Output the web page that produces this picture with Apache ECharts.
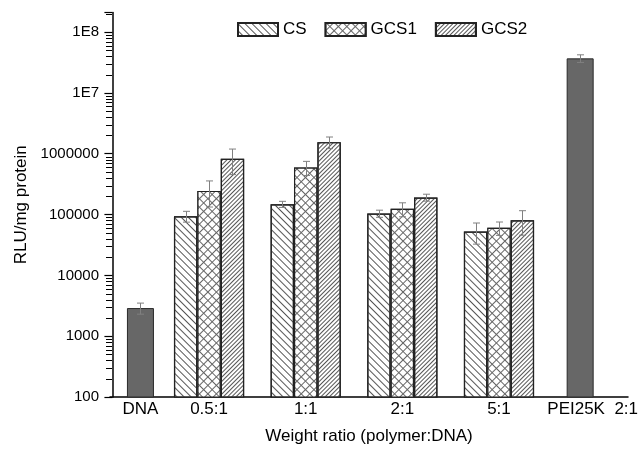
<!DOCTYPE html>
<html>
<head>
<meta charset="utf-8">
<script src="https://cdn.jsdelivr.net/npm/echarts@6/dist/echarts.min.js"></script>
<style>html,body{margin:0;padding:0;background:#fff}#c{width:643px;height:450px}</style>
</head>
<body>
<div id="c"></div>
<script>
// ---- data ----
const categories = ['DNA', '0.5:1', '1:1', '2:1', '5:1', 'PEI25K  2:1'];
const groupCategories = ['0.5:1', '1:1', '2:1', '5:1'];
const csValues   = [94000, 148000, 104000, 52600];
const csErr      = [19000, 17000, 14000, 20000];
const gcs1Values = [245000, 594000, 124000, 60400];
const gcs1Err    = [112000, 155000, 32000, 15000];
const gcs2Values = [824000, 1549000, 191000, 80700];
const gcs2Err    = [370000, 335000, 25000, 35000];
const controlCategories = ['DNA', 'PEI25K  2:1'];
const controlValues = [2900, 37000000];
const controlErr    = [600, 5300000];
const yTickValues = [100, 1000, 10000, 100000, 1000000, 10000000, 100000000];
const yTickLabels = ['100', '1000', '10000', '100000', '1000000', '1E7', '1E8'];

// axis position of each category along the x axis (non-uniform spacing as in original)
const X_MIN = -0.025, X_MAX = 5.335;
const catX = [0.29, 1, 2, 3, 4, 4.84];
const xOf = name => catX[categories.indexOf(name)];

// log minor ticks (2..9 x 10^n)
const minorTicks = [];
for (let e = 2; e < 9; e++) for (let m = 2; m <= 9; m++) minorTicks.push(m * Math.pow(10, e));

const FONT = 'Liberation Sans, Arial, sans-serif';
const BAR_W = 23.4;

function barData(cats, vals) { return cats.map((c, i) => [xOf(c), vals[i]]); }
function errData(cats, vals, errs) { return cats.map((c, i) => [xOf(c), vals[i] - errs[i], vals[i] + errs[i]]); }

function errSeries(cats, vals, errs, slot) {
  return {
    type: 'custom', xAxisIndex: 0, yAxisIndex: 0, z: 10, silent: true,
    data: errData(cats, vals, errs),
    renderItem(params, api) {
      const x = api.value(0);
      const pLo = api.coord([x, api.value(1)]);
      const pHi = api.coord([x, api.value(2)]);
      const cx = Math.round(pHi[0] + slot * BAR_W) + 0.5;
      const cap = 3.5;
      const st = { stroke: '#808080', lineWidth: 1 };
      return { type: 'group', children: [
        { type: 'line', shape: { x1: cx, y1: pHi[1], x2: cx, y2: pLo[1] }, style: st },
        { type: 'line', shape: { x1: cx - cap, y1: pHi[1], x2: cx + cap, y2: pHi[1] }, style: st },
        { type: 'line', shape: { x1: cx - cap, y1: pLo[1], x2: cx + cap, y2: pLo[1] }, style: st }
      ]};
    }
  };
}

// minor ticks of the log y axis, placed through the axis scale
const minorTickSeries = {
  type: 'custom', xAxisIndex: 0, yAxisIndex: 0, z: 20, silent: true, clip: false,
  data: minorTicks.filter(v => v <= 2.1e8).map(v => [0, v]),
  renderItem(params, api) {
    const p0 = api.coord([X_MIN, api.value(1)]);
    const y = Math.round(p0[1]) + 0.5;
    return { type: 'line', shape: { x1: p0[0] - 4, y1: y, x2: p0[0] + 2, y2: y }, style: { stroke: '#000', lineWidth: 1 } };
  }
};

const hatchBorder = { color: '#fff', borderColor: '#222', borderWidth: 1.2 };
const decalCS   = { symbol: 'rect', symbolSize: 1, color: '#555', dashArrayX: [1, 0], dashArrayY: [1, 4], rotation: Math.PI / 4 };
const decalGCS2 = { symbol: 'rect', symbolSize: 1, color: '#555', dashArrayX: [1, 0], dashArrayY: [1, 2], rotation: -Math.PI / 4 };
const decalGCS1 = { symbol: 'rect', symbolSize: 1, color: '#fff', backgroundColor: '#666', dashArrayX: [5, 1], dashArrayY: [5, 1], rotation: Math.PI / 4 };

const chart = echarts.init(document.getElementById('c'), null, { renderer: 'canvas' });
chart.setOption({
  animation: false,
  backgroundColor: '#fff',
  textStyle: { fontFamily: FONT },
  grid: { left: 110, right: 15, top: 12.5, bottom: 53, containLabel: false },
  legend: {
    data: ['CS', 'GCS1', 'GCS2'],
    left: 232, top: 16, icon: 'rect', itemWidth: 40, itemHeight: 13, itemGap: 18,
    textStyle: { fontSize: 17, color: '#000', fontFamily: FONT }
  },
  xAxis: [{
    type: 'value', min: X_MIN, max: X_MAX,
    name: 'Weight ratio (polymer:DNA)', nameLocation: 'middle', nameGap: 31,
    nameTextStyle: { fontSize: 17, color: '#000', fontFamily: FONT },
    axisLine: { lineStyle: { color: '#000', width: 1.5 } },
    axisTick: { show: false },
    splitLine: { show: false },
    axisLabel: {
      customValues: catX, margin: 4, fontSize: 17, color: '#000', fontFamily: FONT,
      formatter: v => {
        const name = categories[catX.indexOf(v)] || '';
        return name.startsWith('PEI') ? '{p|' + name + '}' : name;
      },
      rich: { p: { fontSize: 17, color: '#000', fontFamily: FONT, padding: [0, 0, 0, 25] } }
    }
  }, {
    type: 'value', min: X_MIN, max: X_MAX, show: false
  }],
  yAxis: [{
    type: 'log', logBase: 10, min: 100, max: 2.1e8,
    name: 'RLU/mg protein', nameLocation: 'middle', nameGap: 80, nameRotate: 90,
    nameTextStyle: { fontSize: 17, color: '#000', fontFamily: FONT },
    axisLine: { show: true, lineStyle: { color: '#000', width: 1.5 } },
    axisTick: { show: true, length: 8, lineStyle: { color: '#000', width: 1.2 } },
    splitLine: { show: false },
    axisLabel: {
      customValues: yTickValues, margin: 11, fontSize: 15, color: '#000', fontFamily: FONT,
      formatter: v => { const i = yTickValues.indexOf(v); return i >= 0 ? yTickLabels[i] : ''; }
    }
  }],
  series: [
    { name: 'CS', type: 'bar', xAxisIndex: 0, yAxisIndex: 0, barWidth: BAR_W, barGap: '0%', clip: true,
      itemStyle: Object.assign({ decal: decalCS }, hatchBorder), data: barData(groupCategories, csValues) },
    { name: 'GCS1', type: 'bar', xAxisIndex: 0, yAxisIndex: 0, barWidth: BAR_W, barGap: '0%', clip: true,
      itemStyle: Object.assign({ decal: decalGCS1 }, hatchBorder), data: barData(groupCategories, gcs1Values) },
    { name: 'GCS2', type: 'bar', xAxisIndex: 0, yAxisIndex: 0, barWidth: BAR_W, barGap: '0%', clip: true,
      itemStyle: Object.assign({ decal: decalGCS2 }, hatchBorder), data: barData(groupCategories, gcs2Values) },
    { name: 'Control', type: 'bar', xAxisIndex: 1, yAxisIndex: 0, barWidth: 27, clip: true,
      itemStyle: { color: '#676767', borderColor: '#2a2a2a', borderWidth: 1 },
      data: barData(controlCategories, controlValues) },
    errSeries(groupCategories, csValues, csErr, -1),
    errSeries(groupCategories, gcs1Values, gcs1Err, 0),
    errSeries(groupCategories, gcs2Values, gcs2Err, 1),
    errSeries(controlCategories, controlValues, controlErr, 0),
    minorTickSeries
  ]
});
</script>
</body>
</html>
